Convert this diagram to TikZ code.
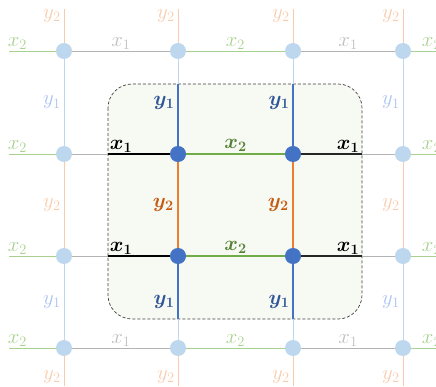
\documentclass[tikz,border=0pt]{standalone}
\usepackage{amsmath}
\usepackage{bm}
\usetikzlibrary{backgrounds}

\definecolor{fgreen}{HTML}{A9D18E}
\definecolor{fgray}{HTML}{B4B4B4}
\definecolor{fblue}{HTML}{BDD7EE}
\definecolor{forange}{HTML}{F8CBAD}
\definecolor{sblue}{HTML}{4472C4}
\definecolor{sorange}{HTML}{ED7D31}
\definecolor{sgreen}{HTML}{70AD47}
\definecolor{tblue}{HTML}{2F5597}
\definecolor{torange}{HTML}{C55A11}
\definecolor{tgreen}{HTML}{548235}
\definecolor{boxfill}{HTML}{F7F9F3}

\begin{document}
\begin{tikzpicture}[x=1pt, y=-1pt, font=\huge,
    dot/.style={circle, fill=fblue, inner sep=0pt, minimum size=16pt},
    hub/.style={circle, fill=sblue, inner sep=0pt, minimum size=16pt},
    fx1/.style={draw=fgray, line width=0.9pt},
    fx2/.style={draw=fgreen, line width=0.9pt},
    fy1/.style={draw=fblue, line width=0.9pt},
    fy2/.style={draw=forange, line width=0.9pt},
    sx1/.style={draw=black, line width=2.6pt},
    sx2/.style={draw=sgreen, line width=2.4pt},
    sy1/.style={draw=sblue, line width=2.2pt},
    sy2/.style={draw=sorange, line width=2.4pt},
    hlab/.style={above, inner sep=1pt},
    vlab/.style={left, inner sep=3pt}]
    \useasboundingbox (0,0) rectangle (436,387);
    % ==== GRID POINTS ====
    \foreach \c/\xx in {1/64,2/178,3/293,4/403} {
        \coordinate (t\c) at (\xx,9);
        \coordinate (b\c) at (\xx,386);
        \foreach \r/\yy in {1/51,2/154,3/256,4/348}
            \node[dot] (p\c\r) at (\xx,\yy) {};
    }
    \foreach \r/\yy in {1/51,2/154,3/256,4/348} {
        \coordinate (l\r) at (9,\yy);
        \coordinate (r\r) at (436,\yy);
    }
    \node[hub] (h22) at (p22) {};
    \node[hub] (h32) at (p32) {};
    \node[hub] (h23) at (p23) {};
    \node[hub] (h33) at (p33) {};
    % ==== FRAME ====
    \coordinate (bt2) at (178,84);  \coordinate (bt3) at (293,84);
    \coordinate (bb2) at (178,319); \coordinate (bb3) at (293,319);
    \coordinate (bl2) at (108,154); \coordinate (bl3) at (108,256);
    \coordinate (br2) at (362,154); \coordinate (br3) at (362,256);
    \begin{scope}[on background layer]
        \draw[black!75, line width=0.7pt, dash pattern=on 3pt off 2pt,
            rounded corners=24pt, fill=boxfill] (108,84) rectangle (362,319);
    \end{scope}
    % ==== OUTER ROWS AND COLUMNS ====
    \foreach \r in {1,4} {
        \draw[fx2] (p1\r) -- (l\r) node[pos=0.82, hlab, fgreen] {$x_2$};
        \draw[fx1] (p1\r) -- (p2\r) node[midway, hlab, fgray!85] {$x_1$};
        \draw[fx2] (p2\r) -- (p3\r) node[midway, hlab, fgreen] {$x_2$};
        \draw[fx1] (p3\r) -- (p4\r) node[midway, hlab, fgray!85] {$x_1$};
        \draw[fx2] (p4\r) -- (r\r) node[pos=0.82, hlab, fgreen] {$x_2$};
    }
    \foreach \c in {1,4} {
        \draw[fy2] (p\c1) -- (t\c) node[pos=0.8, vlab, forange] {$y_2$};
        \draw[fy1] (p\c1) -- (p\c2) node[midway, vlab, fblue!90!blue] {$y_1$};
        \draw[fy2] (p\c2) -- (p\c3) node[midway, vlab, forange] {$y_2$};
        \draw[fy1] (p\c3) -- (p\c4) node[midway, vlab, fblue!90!blue] {$y_1$};
        \draw[fy2] (p\c4) -- (b\c) node[pos=0.7, vlab, forange] {$y_2$};
    }
    % ==== INNER ROWS AND COLUMNS ====
    \foreach \r in {2,3} {
        \draw[fx2] (p1\r) -- (l\r) node[pos=0.82, hlab, fgreen] {$x_2$};
        \draw[fx1] (p1\r) -- (h2\r) node[midway, hlab, black] {$\bm{x_1}$};
        \draw[sx1] (bl\r) -- (h2\r);
        \draw[sx2] (h2\r) -- (h3\r) node[midway, hlab, tgreen] {$\bm{x_2}$};
        \draw[fx1] (h3\r) -- (p4\r) node[midway, hlab, black] {$\bm{x_1}$};
        \draw[sx1, black!85] (h3\r) -- (br\r);
        \draw[fx2] (p4\r) -- (r\r) node[pos=0.82, hlab, fgreen] {$x_2$};
    }
    \foreach \c in {2,3} {
        \draw[fy2] (p\c1) -- (t\c) node[pos=0.8, vlab, forange] {$y_2$};
        \draw[fy1] (p\c1) -- (h\c2) node[midway, vlab, tblue] {$\bm{y_1}$};
        \draw[sy1] (bt\c) -- (h\c2);
        \draw[sy2] (h\c2) -- (h\c3) node[midway, vlab, torange] {$\bm{y_2}$};
        \draw[fy1] (h\c3) -- (p\c4) node[midway, vlab, tblue] {$\bm{y_1}$};
        \draw[sy1] (h\c3) -- (bb\c);
        \draw[fy2] (p\c4) -- (b\c) node[pos=0.7, vlab, forange] {$y_2$};
    }
\end{tikzpicture}
\end{document}
